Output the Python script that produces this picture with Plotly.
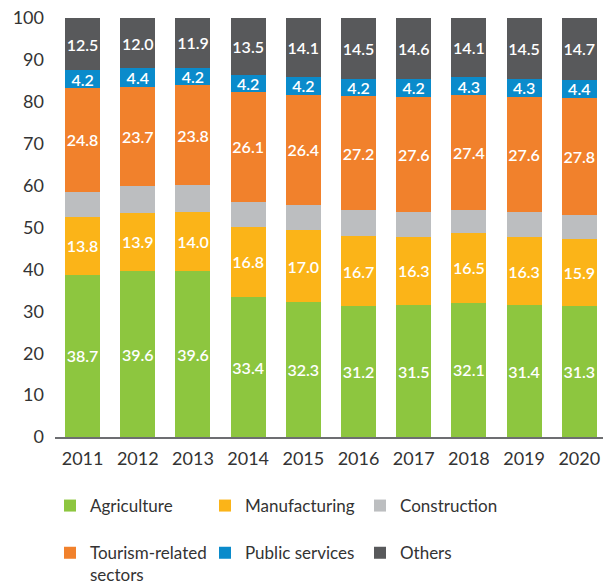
# GDP share by sector, stacked bars 2011-2020

import plotly.graph_objects as go

years = ['2011', '2012', '2013', '2014', '2015', '2016', '2017', '2018', '2019', '2020']

agriculture = [38.7, 39.6, 39.6, 33.4, 32.3, 31.2, 31.5, 32.1, 31.4, 31.3]
manufacturing = [13.8, 13.9, 14.0, 16.8, 17.0, 16.7, 16.3, 16.5, 16.3, 15.9]
construction = [6.0, 6.4, 6.5, 6.0, 6.0, 6.2, 5.8, 5.6, 5.9, 5.9]
tourism = [24.8, 23.7, 23.8, 26.1, 26.4, 27.2, 27.6, 27.4, 27.6, 27.8]
public_services = [4.2, 4.4, 4.2, 4.2, 4.2, 4.2, 4.2, 4.3, 4.3, 4.4]
others = [12.5, 12.0, 11.9, 13.5, 14.1, 14.5, 14.6, 14.1, 14.5, 14.7]

FONT = 'Lato'

# name, values, colour, show value labels
series = [
    ('Agriculture<br>&nbsp;', agriculture, '#8dc63f', True),
    ('Manufacturing<br>&nbsp;', manufacturing, '#fbb418', True),
    ('Construction<br>&nbsp;', construction, '#bcbec0', False),
    ('Tourism-related<br>sectors', tourism, '#f1812c', True),
    ('Public services', public_services, '#0a8bcb', True),
    ('Others', others, '#58595b', True),
]

data = []
for name, vals, color, labelled in series:
    data.append(go.Bar(
        x=years, y=vals, name=name,
        marker=dict(color=color, line=dict(width=0)),
        texttemplate='%{y:.1f}' if labelled else None,
        textposition='inside' if labelled else 'none',
        insidetextanchor='middle',
        textangle=0,
        constraintext='none',
        textfont=dict(family=FONT, size=16, color='white', weight=600),
        hoverinfo='x+y+name',
    ))

layout = go.Layout(
    barmode='stack',
    bargap=0.365,
    width=603, height=585,
    margin=dict(l=55, r=0, t=18, b=148),
    paper_bgcolor='white', plot_bgcolor='white',
    font=dict(family=FONT, size=18, color='#333333'),
    xaxis=dict(range=[-0.5, 9.43], showline=True, linecolor='#6d6e71', linewidth=2,
               ticks='', showgrid=False, ticklabelstandoff=4, automargin=False),
    yaxis=dict(range=[0, 100], dtick=10, showgrid=False, zeroline=False,
               showline=False, ticks='', ticklabelstandoff=10, automargin=False),
    legend=dict(orientation='h', xref='container', yref='container',
                x=0.0829, xanchor='left', y=0.1658, yanchor='top',
                entrywidth=110, entrywidthmode='pixels', valign='top',
                traceorder='normal', font=dict(size=17, color='#333333'),
                itemwidth=30, tracegroupgap=0),
    showlegend=True,
)

fig = go.Figure(data=data, layout=layout)

# drop the default 8px page margin so the figure sits at the window corner
fig.write_html('out.html', config={'displayModeBar': False},
               post_script="document.body.style.margin = '0';")
